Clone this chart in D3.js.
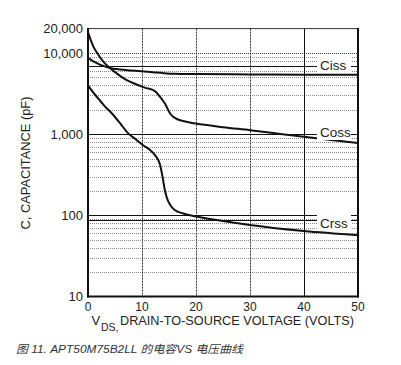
<!DOCTYPE html>
<html>
<head>
<meta charset="utf-8">
<script src="https://cdn.jsdelivr.net/npm/d3@7/dist/d3.min.js"></script>
<style>
  html, body { margin: 0; padding: 0; background: #fff; }
  svg { display: block; font-family: "Liberation Sans", Arial, sans-serif; }
</style>
</head>
<body>
<svg id="chart" width="401" height="365"></svg>
<script>
// ---- data (V_DS in volts, capacitance in pF) ----
const cissV = [0, 1, 2, 3, 4, 6, 8, 10, 12, 14, 16, 20, 30, 40, 50];
const cissC = [8700, 7900, 7300, 6900, 6550, 6250, 6100, 5950, 5800, 5650, 5550, 5500, 5450, 5400, 5400];

const cossV = [0, 0.5, 1, 1.7, 3, 4, 5.5, 7, 9, 10.5, 12.4, 13.3, 14.3, 15.2, 16, 18, 20, 25, 30, 35, 40, 45, 50];
const cossC = [18000, 14500, 12000, 10000, 7600, 6600, 5500, 4700, 4100, 3750, 3400, 2900, 2350, 1800, 1600, 1430, 1350, 1220, 1120, 1020, 930, 850, 780];

const crssV = [0, 0.7, 2, 3, 4.6, 6, 7.4, 9, 10.2, 11.5, 12.6, 13.3, 13.8, 14.2, 14.6, 15.2, 16, 17.5, 20, 25, 30, 40, 50];
const crssC = [4000, 3450, 2700, 2250, 1750, 1350, 1030, 850, 730, 640, 530, 430, 300, 210, 165, 135, 117, 106, 97, 85, 76, 64, 57];

const xTicks = [0, 10, 20, 30, 40, 50];
const yTicks = [10, 100, 1000, 10000, 20000];
const yTickLabels = ["10", "100", "1,000", "10,000", "20,000"];

const seriesNames = ["Ciss", "Coss", "Crss"];
const leaderValues = [7000, 1000, 87];

const xTitle = "DRAIN-TO-SOURCE VOLTAGE (VOLTS)";
const yTitle = "C, CAPACITANCE (pF)";
const caption = "图 11. APT50M75B2LL 的电容VS 电压曲线";

// ---- layout ----
const L = 88, R = 358, T = 28.6, B = 296.5;
const svg = d3.select("#chart");

const x = d3.scaleLinear().domain([0, 50]).range([L, R]);
const y = d3.scaleLog().domain([10, 20000]).range([B, T]);

// horizontal grid (log minor lines)
const gridVals = [];
[10, 100, 1000, 10000].forEach(d => {
  for (let m = 1; m <= 9; m++) {
    const v = m * d;
    if (v > 10 && v < 20000) gridVals.push(v);
  }
});
const g = svg.append("g");
g.selectAll("line.hg").data(gridVals).enter().append("line")
  .attr("x1", L).attr("x2", R)
  .attr("y1", d => Math.round(y(d)) + 0.5).attr("y2", d => Math.round(y(d)) + 0.5)
  .attr("stroke", d => (d === 10000 ? "#444" : "#8a8a8a"))
  .attr("stroke-width", 1)
  .attr("stroke-dasharray", "1,1");

// vertical grid
g.selectAll("line.vg").data([10, 20, 30, 40]).enter().append("line")
  .attr("y1", T).attr("y2", B)
  .attr("x1", d => Math.round(x(d)) + 0.5).attr("x2", d => Math.round(x(d)) + 0.5)
  .attr("stroke", d => (d === 40 ? "#111" : "#333"))
  .attr("stroke-width", 1)
  .attr("stroke-dasharray", d => (d === 40 ? null : "2,1"));

// leader lines (solid) and decade 100 line
[...leaderValues, 100].forEach(v => {
  g.append("line")
    .attr("x1", L).attr("x2", R)
    .attr("y1", Math.round(y(v)) + 0.5).attr("y2", Math.round(y(v)) + 0.5)
    .attr("stroke", "#111").attr("stroke-width", 1);
});

// curves
const line = d3.line()
  .x(d => x(d[0])).y(d => y(d[1]))
  .curve(d3.curveMonotoneX);
const curves = [
  d3.zip(cissV, cissC),
  d3.zip(cossV, cossC),
  d3.zip(crssV, crssC)
];
svg.append("g").selectAll("path").data(curves).enter().append("path")
  .attr("d", line)
  .attr("fill", "none")
  .attr("stroke", "#111")
  .attr("stroke-width", 2)
  .attr("stroke-linejoin", "round");

// series labels with white backgrounds
const labelY = [70, 137, 228];
seriesNames.forEach((name, i) => {
  svg.append("rect")
    .attr("x", 317).attr("y", labelY[i] - 13)
    .attr("width", 34).attr("height", 16)
    .attr("fill", "#fff");
  svg.append("text")
    .attr("x", 320).attr("y", labelY[i])
    .attr("font-size", 13.5)
    .attr("fill", "#222")
    .text(name);
});

// frame
svg.append("line").attr("x1", L).attr("x2", R).attr("y1", T).attr("y2", T)
  .attr("stroke", "#333").attr("stroke-width", 1);
svg.append("line").attr("x1", L).attr("x2", L).attr("y1", T - 0.5).attr("y2", B + 1)
  .attr("stroke", "#111").attr("stroke-width", 2);
svg.append("line").attr("x1", R).attr("x2", R).attr("y1", T - 0.5).attr("y2", B + 1)
  .attr("stroke", "#111").attr("stroke-width", 2);
svg.append("line").attr("x1", L - 1).attr("x2", R + 1).attr("y1", B).attr("y2", B)
  .attr("stroke", "#111").attr("stroke-width", 2);

// y tick labels
svg.append("g").selectAll("text").data(yTicks).enter().append("text")
  .attr("x", 83)
  .attr("y", d => y(d) + 4.5)
  .attr("text-anchor", "end")
  .attr("font-size", 13)
  .attr("fill", "#222")
  .text((d, i) => yTickLabels[i]);

// x tick labels
svg.append("g").selectAll("text").data(xTicks).enter().append("text")
  .attr("x", d => x(d))
  .attr("y", 310.5)
  .attr("text-anchor", "middle")
  .attr("font-size", 12)
  .attr("fill", "#222")
  .text(d => d);

// x title
svg.append("text").attr("x", 91.5).attr("y", 324.5)
  .attr("font-size", 13).attr("fill", "#222").text("V");
svg.append("text").attr("x", 101).attr("y", 331)
  .attr("font-size", 10.5).attr("fill", "#222").text("DS,");
svg.append("text").attr("x", 120).attr("y", 324.5)
  .attr("font-size", 13).attr("fill", "#222")
  .attr("textLength", 234).attr("lengthAdjust", "spacingAndGlyphs")
  .text(xTitle);

// y title
svg.append("text")
  .attr("transform", "translate(29.5,163) rotate(-90)")
  .attr("text-anchor", "middle")
  .attr("font-size", 13)
  .attr("fill", "#222")
  .attr("textLength", 133).attr("lengthAdjust", "spacingAndGlyphs")
  .text(yTitle);

// caption
svg.append("text")
  .attr("x", 16).attr("y", 353)
  .attr("font-size", 11)
  .attr("font-style", "italic")
  .attr("fill", "#333")
  .attr("font-family", "'Liberation Sans', 'Noto Sans CJK SC', sans-serif")
  .attr("textLength", 227).attr("lengthAdjust", "spacingAndGlyphs")
  .text(caption);
</script>
</body>
</html>
